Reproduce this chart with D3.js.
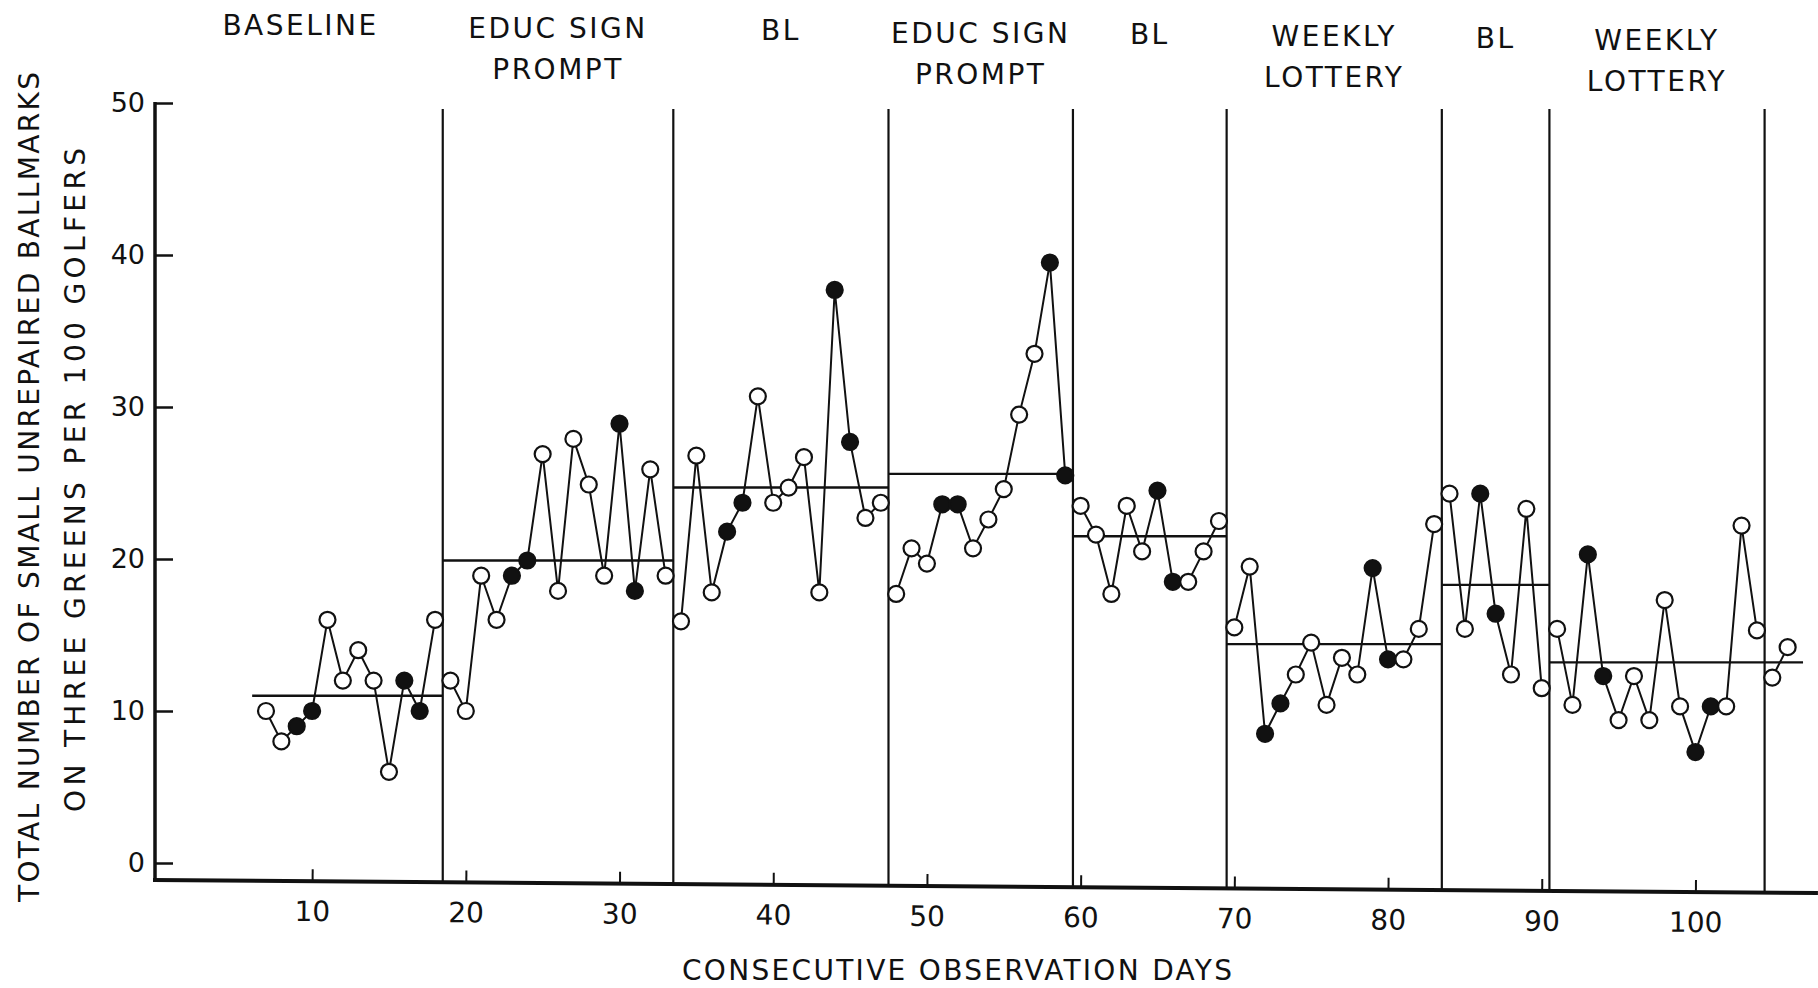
<!DOCTYPE html>
<html>
<head>
<meta charset="utf-8">
<script src="https://cdn.jsdelivr.net/npm/d3@7"></script>
<style>
  body { margin: 0; background: #fff; }
  text { font-family: "DejaVu Sans", sans-serif; fill: #111; }
</style>
</head>
<body>
<div id="chart"></div>
<script>
// condition labels, the day each condition ends, and its mean
var phaseLabels = [["BASELINE"], ["EDUC SIGN", "PROMPT"], ["BL"], ["EDUC SIGN", "PROMPT"],
                   ["BL"], ["WEEKLY", "LOTTERY"], ["BL"], ["WEEKLY", "LOTTERY"]];
var phaseEnds = [18.5, 33.5, 47.5, 59.5, 69.5, 83.5, 90.5, 104.5];
var phaseMeans = [11.0, 19.9, 24.7, 25.6, 21.5, 14.4, 18.3, 13.2];
var meanFrom = 6.1, meanTo = 107;

// unrepaired ballmarks per 100 golfers, one value a day from day 7 on
var firstDay = 7;
var ballmarks = [
  10, 8, 9, 10, 16, 12, 14, 12, 6, 12, 10, 16,
  12, 10, 18.9, 16, 18.9, 19.9, 26.9, 17.9, 27.9, 24.9, 18.9, 28.9, 17.9, 25.9, 18.9,
  15.9, 26.8, 17.8, 21.8, 23.7, 30.7, 23.7, 24.7, 26.7, 17.8, 37.7, 27.7, 22.7, 23.7,
  17.7, 20.7, 19.7, 23.6, 23.6, 20.7, 22.6, 24.6, 29.5, 33.5, 39.5, 25.5,
  23.5, 21.6, 17.7, 23.5, 20.5, 24.5, 18.5, 18.5, 20.5, 22.5,
  15.5, 19.5, 8.5, 10.5, 12.4, 14.5, 10.4, 13.5, 12.4, 19.4, 13.4, 13.4, 15.4, 22.3,
  24.3, 15.4, 24.3, 16.4, 12.4, 23.3, 11.5,
  15.4, 10.4, 20.3, 12.3, 9.4, 12.3, 9.4, 17.3, 10.3, 7.3, 10.3, 10.3, 22.2, 15.3,
  12.2, 14.2
];
// days drawn as filled circles (weekends)
var solidDays = [9, 10, 16, 17, 23, 24, 30, 31, 37, 38, 44, 45, 51, 52, 58, 59,
                 65, 66, 72, 73, 79, 80, 86, 87, 93, 94, 100, 101];

var dayTicks = [10, 20, 30, 40, 50, 60, 70, 80, 90, 100];
var countTicks = [0, 10, 20, 30, 40, 50];

// set the dimensions
var width = 1818, height = 988;
var ink = "#111";

// set the ranges
var x = d3.scaleLinear().domain([0, 108]).range([158.4, 1818.4]);
var y = d3.scaleLinear().domain([0, 50]).range([863, 103]);

// the scan is a little crooked, the bottom axis runs downhill
var tiltDeg = 0.45;
var tilt = Math.tan(tiltDeg * Math.PI / 180);
function axisY(px) { return 880 + (px - 155) * tilt; }

var svg = d3.select("#chart").append("svg")
    .attr("width", width)
    .attr("height", height);

// points with day and phase
var points = ballmarks.map(function(v, i) {
  var day = firstDay + i;
  var p = phaseEnds.findIndex(function(e) { return day < e; });
  return {day: day, value: v, phase: p < 0 ? phaseEnds.length : p,
          solid: solidDays.indexOf(day) >= 0};
});
var segments = d3.groups(points, function(d) { return d.phase; });

// phase change lines
svg.selectAll(".phase")
    .data(phaseEnds)
  .enter().append("line")
    .attr("x1", function(d) { return x(d); })
    .attr("x2", function(d) { return x(d); })
    .attr("y1", y(49.6))
    .attr("y2", function(d) { return axisY(x(d)); })
    .attr("stroke", ink)
    .attr("stroke-width", 2.2);

// phase means
svg.selectAll(".mean")
    .data(phaseMeans)
  .enter().append("line")
    .attr("x1", function(d, i) { return x(i == 0 ? meanFrom : phaseEnds[i - 1]); })
    .attr("x2", function(d, i) { return x(i == phaseMeans.length - 1 ? meanTo : phaseEnds[i]); })
    .attr("y1", function(d) { return y(d); })
    .attr("y2", function(d) { return y(d); })
    .attr("stroke", ink)
    .attr("stroke-width", 2.4);

// data lines, broken at every phase change
var line = d3.line()
    .x(function(d) { return x(d.day); })
    .y(function(d) { return y(d.value); });

svg.selectAll(".seg")
    .data(segments)
  .enter().append("path")
    .attr("d", function(d) { return line(d[1]); })
    .attr("fill", "none")
    .attr("stroke", ink)
    .attr("stroke-width", 2);

svg.selectAll(".dot")
    .data(points)
  .enter().append("circle")
    .attr("cx", function(d) { return x(d.day); })
    .attr("cy", function(d) { return y(d.value); })
    .attr("r", 8)
    .attr("fill", function(d) { return d.solid ? ink : "#fff"; })
    .attr("stroke", ink)
    .attr("stroke-width", 2.2);

// y axis
var yAxis = svg.append("g")
    .attr("transform", "translate(155,0)")
    .call(d3.axisLeft(y).tickValues(countTicks).tickSizeInner(-18).tickSizeOuter(0).tickPadding(10));
yAxis.select(".domain").remove();
yAxis.selectAll(".tick line").attr("stroke", ink).attr("stroke-width", 2.5);
yAxis.selectAll(".tick text")
    .style("font-size", "27px")
    .attr("fill", ink);
svg.append("line")
    .attr("x1", 155).attr("x2", 155)
    .attr("y1", y(50) - 1).attr("y2", axisY(155) + 2)
    .attr("stroke", ink)
    .attr("stroke-width", 3.5);

// x axis, tilted like the scan
var xAxis = svg.append("g")
    .attr("transform", "translate(0,880) rotate(" + tiltDeg + ",155,0)")
    .call(d3.axisBottom(x).tickValues(dayTicks).tickSizeInner(-12).tickSizeOuter(0).tickPadding(20));
xAxis.select(".domain").remove();
xAxis.selectAll(".tick line").attr("stroke", ink).attr("stroke-width", 2);
xAxis.selectAll(".tick text")
    .style("font-size", "28px")
    .attr("fill", ink);
xAxis.append("line")
    .attr("x1", 153).attr("x2", 1818)
    .attr("y1", 0).attr("y2", 0)
    .attr("stroke", ink)
    .attr("stroke-width", 4);

// condition labels above each phase
phaseLabels.forEach(function(lines, i) {
  var start = i == 0 ? 0 : phaseEnds[i - 1];
  var cx = x((start + phaseEnds[i]) / 2);
  lines.forEach(function(t, j) {
    svg.append("text")
        .attr("x", cx)
        .attr("y", 35 + (cx - 292) * 0.011 + j * 41)
        .attr("text-anchor", "middle")
        .style("font-size", "28px")
        .style("letter-spacing", "2.5px")
        .text(t);
  });
});

// axis titles
svg.append("text")
    .attr("x", 957)
    .attr("y", 980)
    .attr("text-anchor", "middle")
    .attr("textLength", 550)
    .attr("lengthAdjust", "spacing")
    .style("font-size", "28px")
    .text("CONSECUTIVE OBSERVATION DAYS");

svg.append("text")
    .attr("transform", "translate(29,487) rotate(-90)")
    .attr("dy", "0.36em")
    .attr("text-anchor", "middle")
    .attr("textLength", 830)
    .attr("lengthAdjust", "spacing")
    .style("font-size", "28px")
    .text("TOTAL NUMBER OF SMALL UNREPAIRED BALLMARKS");

svg.append("text")
    .attr("transform", "translate(75,480) rotate(-90)")
    .attr("dy", "0.36em")
    .attr("text-anchor", "middle")
    .attr("textLength", 664)
    .attr("lengthAdjust", "spacing")
    .style("font-size", "28px")
    .text("ON THREE GREENS PER 100 GOLFERS");
</script>
</body>
</html>
